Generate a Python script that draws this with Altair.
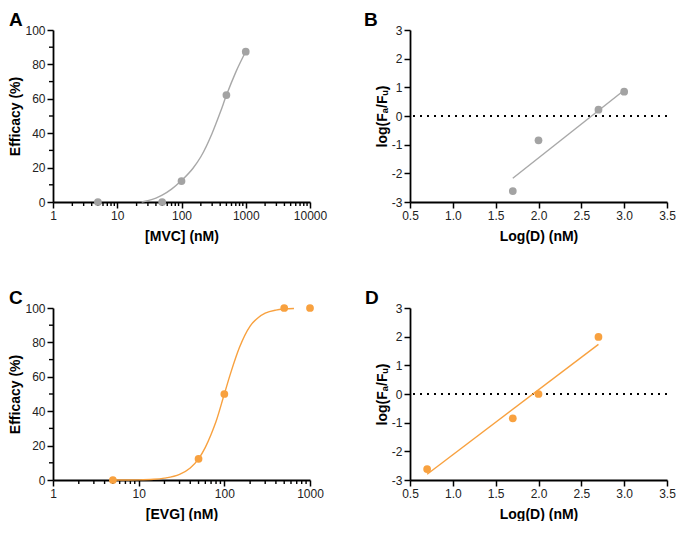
import altair as alt
import pandas as pd

FONT = "Liberation Sans"
GRAY_PT = "#a3a3a3"
GRAY_LN = "#a8a8a8"
ORANGE = "#f8a13f"

# ---------------- data ----------------
# Panel A: MVC dose-response
mvc_conc = [5, 50, 100, 500, 1000]
mvc_eff = [0.0, 0.0, 12.2, 62.2, 87.4]
mvc_fit_conc = [24, 30, 40, 50, 70, 100, 150, 200, 300, 400, 500, 700, 1000]
mvc_fit_eff = [0.0, 0.8, 2.3, 4.0, 7.5, 12.5, 19.5, 26.3, 40.0, 52.0, 62.0, 75.5, 87.5]

# Panel B: MVC median-effect plot
mvc_logd = [1.70, 2.00, 2.70, 3.00]
mvc_logfa = [-2.62, -0.85, 0.22, 0.85]
mvc_line_x = [1.70, 3.00]
mvc_line_y = [-2.17, 0.90]

# Panel C: EVG dose-response
evg_conc = [5, 50, 100, 500, 1000]
evg_eff = [0.0, 12.3, 50.0, 100.0, 100.0]
evg_fit_conc = [5, 10, 15, 20, 30, 40, 50, 60, 70, 80, 100, 120, 150, 200, 250, 300, 400, 500, 650]
evg_fit_eff = [0.0, 0.1, 0.4, 1.1, 3.3, 7.0, 12.3, 19.0, 26.5, 34.0, 50.0, 63.0, 77.0, 89.5,
               94.5, 97.0, 98.8, 99.4, 99.7]

# Panel D: EVG median-effect plot
evg_logd = [0.70, 1.70, 2.00, 2.70]
evg_logfa = [-2.62, -0.85, 0.0, 1.99]
evg_line_x = [0.70, 2.70]
evg_line_y = [-2.80, 1.73]

# axis tick definitions
decades_a = [1, 10, 100, 1000, 10000]
decades_c = [1, 10, 100, 1000]
eff_major = [0, 20, 40, 60, 80, 100]
eff_minor = [10, 30, 50, 70, 90]
logd_ticks = [0.5, 1.0, 1.5, 2.0, 2.5, 3.0, 3.5]
logfa_ticks = [-3, -2, -1, 0, 1, 2, 3]

W, H = 257, 172


def log_minor(decades):
    vals = []
    for d in decades[:-1]:
        vals += [d * m for m in range(2, 10)]
    return vals


def log_x(title, decades):
    return alt.X(
        "x:Q",
        scale=alt.Scale(type="log", domain=[decades[0], decades[-1]], nice=False),
        axis=alt.Axis(title=title, values=decades, labelExpr="datum.value + ''", tickSize=6),
    )


def eff_y():
    return alt.Y(
        "y:Q",
        scale=alt.Scale(domain=[0, 100], nice=False),
        axis=alt.Axis(title="Efficacy (%)", values=eff_major, labelExpr="datum.value + ''",
                      tickSize=6),
    )


def logd_x():
    return alt.X(
        "x:Q",
        scale=alt.Scale(domain=[0.5, 3.5], nice=False, zero=False),
        axis=alt.Axis(title="Log(D) (nM)", values=logd_ticks, format=".1f", tickSize=6),
    )


def logfa_y():
    return alt.Y(
        "y:Q",
        scale=alt.Scale(domain=[-3, 3], nice=False),
        axis=alt.Axis(title="log(Fₐ/Fᵤ)", values=logfa_ticks,
                      labelExpr="datum.value + ''", tickSize=6),
    )


def letter(txt, dx):
    return alt.TitleParams(txt, anchor="start", frame="group", dx=dx, offset=-6,
                           fontSize=19, fontWeight="bold", font=FONT, color="black")


def dose_panel(conc, eff, fconc, feff, color, lcolor, xtitle, decades, lab, dx):
    pts = pd.DataFrame({"x": conc, "y": eff})
    fit = pd.DataFrame({"x": fconc, "y": feff})
    xminor = pd.DataFrame({"x": log_minor(decades)})
    yminor = pd.DataFrame({"y": eff_minor})
    xt = alt.Chart(xminor).mark_tick(orient="vertical", size=4, thickness=1.4, color="black",
                                     opacity=1).encode(x=log_x(xtitle, decades), y=alt.value(H + 2))
    yt = alt.Chart(yminor).mark_tick(orient="horizontal", size=4, thickness=1.4, color="black",
                                     opacity=1).encode(y=eff_y(), x=alt.value(-2))
    curve = alt.Chart(fit).mark_line(color=lcolor, strokeWidth=1.4, interpolate="monotone").encode(
        x=log_x(xtitle, decades), y=eff_y())
    dots = alt.Chart(pts).mark_circle(color=color, size=60, opacity=1).encode(
        x=log_x(xtitle, decades), y=eff_y())
    return alt.layer(xt, yt, curve, dots).properties(width=W, height=H, title=letter(lab, dx))


def me_panel(lx, ly, px, py, color, lcolor, lab, dx):
    pts = pd.DataFrame({"x": px, "y": py})
    ln = pd.DataFrame({"x": lx, "y": ly})
    zero = pd.DataFrame({"y": [0]})
    rule = alt.Chart(zero).mark_rule(color="black", strokeWidth=1.8, strokeDash=[2, 5]).encode(
        y=logfa_y())
    line = alt.Chart(ln).mark_line(color=lcolor, strokeWidth=1.4).encode(x=logd_x(), y=logfa_y())
    dots = alt.Chart(pts).mark_circle(color=color, size=60, opacity=1).encode(x=logd_x(), y=logfa_y())
    return alt.layer(rule, line, dots).properties(width=W, height=H, title=letter(lab, dx))


pA = dose_panel(mvc_conc, mvc_eff, mvc_fit_conc, mvc_fit_eff, GRAY_PT, GRAY_LN,
                "[MVC] (nM)", decades_a, "A", -44)
pB = me_panel(mvc_line_x, mvc_line_y, mvc_logd, mvc_logfa, GRAY_PT, GRAY_LN, "B", -46)
pC = dose_panel(evg_conc, evg_eff, evg_fit_conc, evg_fit_eff, ORANGE, ORANGE,
                "[EVG] (nM)", decades_c, "C", -44)
pD = me_panel(evg_line_x, evg_line_y, evg_logd, evg_logfa, ORANGE, ORANGE, "D", -45)

chart = alt.concat(pA, pB, pC, pD, columns=2, spacing={"row": 106, "column": 100},
                   bounds="flush").properties(
    padding={"left": 0, "top": 3, "right": 0, "bottom": 0}
).configure_view(strokeWidth=0).configure_axis(
    grid=False,
    domainColor="black",
    domainWidth=1.8,
    tickColor="black",
    tickWidth=1.5,
    labelFont=FONT,
    labelFontSize=12,
    labelColor="#222222",
    labelPadding=2,
    labelOverlap=False,
    labelFlush=False,
    titleFont=FONT,
    titleFontSize=14,
    titleFontWeight="bold",
    titleColor="black",
).configure_axisX(titlePadding=8).configure_axisY(titlePadding=2)

chart.save("out.html", embed_options={"renderer": "svg", "actions": False})
